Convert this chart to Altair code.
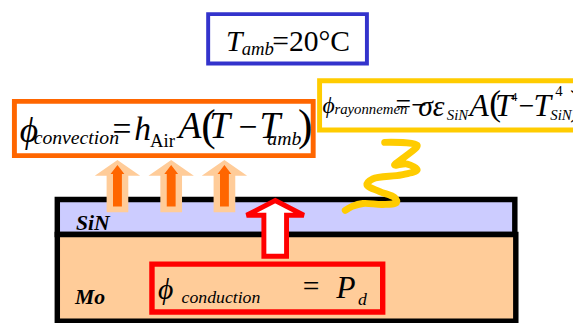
import altair as alt
import pandas as pd

# ---------------- data ----------------
# material layers (screen pixel coordinates of the drawing)
layer_names = ["SiN", "Mo"]
layer_x1 = [58, 58]
layer_x2 = [522, 523]
layer_y1 = [200, 235.5]
layer_y2 = [235.5, 323.5]

# framed formula boxes
frame_names = ["ambient", "convection", "rayonnement", "conduction"]
frame_x1 = [211, 14.5, 324, 154]
frame_x2 = [372, 317.5, 600, 388]
frame_y1 = [12, 100.5, 79.5, 265.5]
frame_y2 = [62, 155.5, 129.5, 314]

# text fragments of the formulas
text_items = ["T", "amb", "=20°C",
              "ϕ", "convection", "=", "h", "Air", "A", "(", "T", "−", "T", "amb", ")",
              "ϕ", "rayonnemen", "=", "−", "σε", "SiN", "A", "(", "T", "4", "−", "T", "SiN", "4", ")",
              "ϕ", "conduction", "=", "P", "d",
              "SiN", "Mo"]
text_x = [229, 245, 276,
          20, 34, 114, 136, 152, 181, 204, 212, 242, 263, 271, 302,
          327, 339, 401, 417, 424, 453, 476, 496, 502, 518, 526, 541, 558, 563, 578,
          160, 184, 307, 341, 363,
          77, 76]
text_y = [49, 53, 49,
          142, 144, 140, 140, 147, 138, 140, 138, 138, 138, 145, 140,
          112, 113, 112, 113, 115, 119, 115, 114, 115, 100, 114, 115, 119, 95, 114,
          301, 305, 298, 300, 307,
          231, 306]
text_size = [30, 19, 30,
             36, 20, 34, 34, 19, 38, 44, 38, 34, 38, 20, 44,
             24, 15, 28, 28, 30, 15, 32, 36, 32, 13, 28, 32, 15, 15, 36,
             30, 18, 30, 32, 18,
             22, 22]
text_style = ["i", "i", "r",
              "i", "i", "r", "i", "r", "i", "r", "i", "r", "i", "i", "r",
              "i", "i", "r", "r", "i", "i", "i", "r", "i", "r", "r", "i", "i", "r", "r",
              "i", "i", "r", "i", "i",
              "bi", "bi"]

# radiation squiggle, traced from top to bottom
squiggle_x = [390, 423, 410, 400, 413, 423, 407, 378, 372, 385, 400, 402, 388, 368, 357, 350]
squiggle_y = [142, 145, 157, 165, 164, 170, 175, 179, 185, 192, 198, 203, 205, 204, 207, 211]

# arrows
conv_arrow_cx = [119, 173.5, 227.5]
cond_arrow_cx = [279]

# ---------------- helpers ----------------
W, H = 573, 315
FONT = "Liberation Serif"
xs = alt.Scale(domain=[8, 581], nice=False, zero=False)
ys = alt.Scale(domain=[8, 323], nice=False, zero=False, reverse=True)


def poly(pts):
    ring = [[float(a), float(b)] for a, b in pts] + [[float(pts[0][0]), float(pts[0][1])]]
    return {"type": "Feature", "properties": {}, "geometry": {"type": "Polygon", "coordinates": [ring]}}


def up_arrow(cx, tip, base, bottom, head_hw, stem_hw):
    return poly([(cx, tip), (cx + head_hw, base), (cx + stem_hw, base), (cx + stem_hw, bottom),
                 (cx - stem_hw, bottom), (cx - stem_hw, base), (cx - head_hw, base)])


layers_df = pd.DataFrame({"name": layer_names, "x1": layer_x1, "x2": layer_x2,
                          "y1": layer_y1, "y2": layer_y2})
frames_df = pd.DataFrame({"name": frame_names, "x1": frame_x1, "x2": frame_x2,
                          "y1": frame_y1, "y2": frame_y2})
sq_df = pd.DataFrame({"x": squiggle_x, "y": squiggle_y, "i": list(range(len(squiggle_x)))})

rect_enc = dict(x=alt.X("x1:Q", scale=xs, axis=None), x2="x2:Q",
                y=alt.Y("y1:Q", scale=ys, axis=None), y2="y2:Q")

mat = alt.Chart(layers_df).mark_rect(stroke="black", strokeWidth=5.5).encode(
    fill=alt.Fill("name:N", scale=alt.Scale(domain=["SiN", "Mo"], range=["#ccccff", "#ffcc99"]), legend=None),
    **rect_enc)


def frame(name, color, sw, fill=None):
    kw = dict(stroke=color, strokeWidth=sw, clip=True)
    if fill:
        kw["fill"] = fill
    else:
        kw["fillOpacity"] = 0
        kw["fill"] = "white"
    return alt.Chart(frames_df).transform_filter(alt.datum.name == name).mark_rect(**kw).encode(**rect_enc)


STYLE = {"i": dict(fontStyle="italic"), "r": dict(fontStyle="normal"),
         "bi": dict(fontStyle="italic", fontWeight="bold")}


def text_layer(t, x, y, s, st):
    df = pd.DataFrame({"t": [t], "x": [x], "y": [y]})
    return alt.Chart(df).mark_text(
        align="left", baseline="alphabetic", font=FONT, fontSize=s, color="black", **STYLE[st]
    ).encode(x=alt.X("x:Q", scale=xs, axis=None), y=alt.Y("y:Q", scale=ys, axis=None), text="t:N")


text_layers = [text_layer(*row) for row in zip(text_items, text_x, text_y, text_size, text_style)]


def geo(features, **kw):
    return alt.Chart(alt.Data(values=features)).mark_geoshape(**kw).project(
        type="identity", scale=1, translate=[-8, -8])


conv_outer = geo([up_arrow(c, 160, 176, 213, 23, 11) for c in conv_arrow_cx], fill="#ffcc99", strokeWidth=0)
conv_inner = geo([up_arrow(c, 165, 174, 207, 7, 4.5) for c in conv_arrow_cx], fill="#ff6600", strokeWidth=0)
cond_arrow = geo([up_arrow(c, 201, 216, 257.5, 29, 11.5) for c in cond_arrow_cx],
                 fill="white", stroke="#ff0000", strokeWidth=5, strokeJoin="miter")

squiggle = alt.Chart(sq_df).mark_line(color="#ffcc00", strokeWidth=7, strokeCap="round",
                                      strokeJoin="round", interpolate="catmull-rom").encode(
    x=alt.X("x:Q", scale=xs, axis=None), y=alt.Y("y:Q", scale=ys, axis=None), order="i:Q")

chart = alt.layer(
    mat,
    frame("conduction", "#ff0000", 5.5),
    conv_outer, conv_inner, cond_arrow,
    squiggle,
    frame("convection", "#ff6600", 5, "white"),
    frame("rayonnement", "#ffcc00", 5, "white"),
    frame("ambient", "#3333cc", 4, "white"),
    *text_layers,
).properties(width=W, height=H, autosize=alt.AutoSizeParams(type="none"), padding=0,
             background="white").configure_view(strokeWidth=0)

chart.save("out.html", embed_options={"renderer": "svg", "actions": False})
